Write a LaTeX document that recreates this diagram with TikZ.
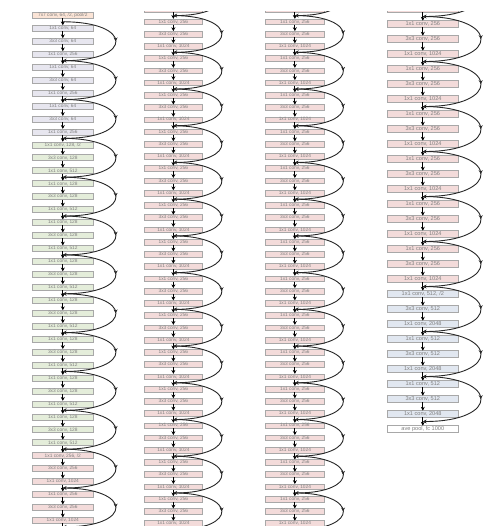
\documentclass[tikz,border=0pt]{standalone}
\usepackage{fontspec}
\setsansfont{Liberation Sans}
\usetikzlibrary{arrows.meta, positioning, calc, decorations.markings}

\definecolor{peach}{HTML}{FBE4D6}
\definecolor{lavender}{HTML}{E7E6EF}
\definecolor{sage}{HTML}{E4EDDA}
\definecolor{blush}{HTML}{F3DBDA}
\definecolor{ice}{HTML}{E1E7F0}
\definecolor{boxline}{HTML}{A8A8A8}
\definecolor{labelgray}{HTML}{808080}

\tikzset{
    layer/.style={rectangle, draw=boxline, line width=0.5pt, inner sep=0pt, outer sep=0pt, text=labelgray},
    col1/.style={layer, minimum width=61pt, minimum height=6pt, font=\sffamily\fontsize{4.8}{5}\selectfont},
    col2/.style={layer, minimum width=58.5pt, minimum height=5.7pt, font=\sffamily\fontsize{4.8}{5}\selectfont},
    col4/.style={layer, minimum width=71pt, minimum height=6.8pt, font=\sffamily\fontsize{5.6}{6}\selectfont},
    flow/.style={-{Stealth[length=3.8pt,width=4pt]}, line width=0.8pt},
    skip/.style={line width=0.9pt, black!85, out=0, in=0,
        -{Stealth[length=3.8pt,width=4pt]},
        decoration={markings, mark=at position 0.5 with {\arrow{Stealth[length=3.8pt,width=4pt]}}},
        postaction={decorate}}
}

\begin{document}
\begin{tikzpicture}[x=1pt, y=1pt]
    \useasboundingbox (0,0) rectangle (487,-526);
    \clip (0,0) rectangle (487,-526);

    % Column 1: conv1, conv2_x, conv3_x, first blocks of conv4_x
    \node[col1, fill=peach] (r1-0) at (62.8,-15.3) {7x7 conv, 64, /2, pool/2};
    \coordinate (j1-0) at ([yshift=-3.475pt]r1-0.south);
    \foreach \i [remember=\i as \p (initially 0)] in {1,...,39} {
        \pgfmathtruncatemacro\lyr{mod(\i-1,3)}
        \ifnum\i<10 \def\chn{64}\def\tnt{lavender}\else
            \ifnum\i<34 \def\chn{128}\def\tnt{sage}\else
                \def\chn{256}\def\tnt{blush}\fi\fi
        \pgfmathtruncatemacro\chw{4*\chn}
        \def\sfx{}
        \ifnum\i=10 \def\sfx{, /2}\fi
        \ifnum\i=34 \def\sfx{, /2}\fi
        \node[col1, fill=\tnt, below=6.95pt of r1-\p] (r1-\i)
            {\ifcase\lyr\relax 1x1 conv, \chn\sfx\or 3x3 conv, \chn\or 1x1 conv, \chw\fi};
        \draw[flow] (r1-\p) -- (r1-\i);
        \ifnum\lyr=2 \coordinate (j1-\i) at ([yshift=-3.475pt]r1-\i.south);\fi
    }
    \coordinate (r1-out) at ([yshift=-12pt]r1-39.south);
    \draw[flow] (r1-39) -- (r1-out);
    \foreach \b in {3,6,...,39} {
        \pgfmathtruncatemacro\a{\b-3}
        \draw[skip, looseness=4.65] (j1-\a) to (j1-\b);
    }

    % Column 2: conv4_x continued
    \begin{scope}
        \clip (125,-12) rectangle (255,-526);
        \node[col2, fill=blush] (r2-0) at (173.35,-21.7) {1x1 conv, 256};
        \node[col2, fill=blush, above=6.54pt of r2-0] (r2-top) {1x1 conv, 1024};
        \coordinate (j2-top) at ([yshift=-3.27pt]r2-top.south);
        \coordinate (j2-prev) at ([yshift=36.72pt]j2-top);
        \draw[flow] (r2-top) -- (r2-0);
        \draw[skip, looseness=4.49] (j2-prev) to (j2-top);
        \foreach \i [remember=\i as \p (initially 0)] in {1,...,41} {
            \pgfmathtruncatemacro\lyr{mod(\i,3)}
            \node[col2, fill=blush, below=6.54pt of r2-\p] (r2-\i)
                {\ifcase\lyr\relax 1x1 conv, 256\or 3x3 conv, 256\or 1x1 conv, 1024\fi};
            \draw[flow] (r2-\p) -- (r2-\i);
            \ifnum\lyr=2 \coordinate (j2-\i) at ([yshift=-3.27pt]r2-\i.south);\fi
        }
        \coordinate (r2-out) at ([yshift=-12pt]r2-41.south);
        \draw[flow] (r2-41) -- (r2-out);
        \draw[skip, looseness=4.49] (j2-top) to (j2-2);
        \foreach \b in {5,8,...,41} {
            \pgfmathtruncatemacro\a{\b-3}
            \draw[skip, looseness=4.49] (j2-\a) to (j2-\b);
        }
    \end{scope}

    % Column 3: conv4_x continued
    \begin{scope}
        \clip (255,-12) rectangle (380,-526);
        \node[col2, fill=blush] (r3-0) at (294.85,-21.7) {1x1 conv, 256};
        \node[col2, fill=blush, above=6.54pt of r3-0] (r3-top) {1x1 conv, 1024};
        \coordinate (j3-top) at ([yshift=-3.27pt]r3-top.south);
        \coordinate (j3-prev) at ([yshift=36.72pt]j3-top);
        \draw[flow] (r3-top) -- (r3-0);
        \draw[skip, looseness=4.49] (j3-prev) to (j3-top);
        \foreach \i [remember=\i as \p (initially 0)] in {1,...,41} {
            \pgfmathtruncatemacro\lyr{mod(\i,3)}
            \node[col2, fill=blush, below=6.54pt of r3-\p] (r3-\i)
                {\ifcase\lyr\relax 1x1 conv, 256\or 3x3 conv, 256\or 1x1 conv, 1024\fi};
            \draw[flow] (r3-\p) -- (r3-\i);
            \ifnum\lyr=2 \coordinate (j3-\i) at ([yshift=-3.27pt]r3-\i.south);\fi
        }
        \coordinate (r3-out) at ([yshift=-12pt]r3-41.south);
        \draw[flow] (r3-41) -- (r3-out);
        \draw[skip, looseness=4.49] (j3-top) to (j3-2);
        \foreach \b in {5,8,...,41} {
            \pgfmathtruncatemacro\a{\b-3}
            \draw[skip, looseness=4.49] (j3-\a) to (j3-\b);
        }
    \end{scope}

    % Column 4: end of conv4_x, conv5_x, pooling
    \begin{scope}
        \clip (380,-12) rectangle (487,-526);
        \node[col4, fill=blush] (r4-0) at (422.8,-24) {1x1 conv, 256};
        \node[col4, fill=blush, above=8.2pt of r4-0] (r4-top) {1x1 conv, 1024};
        \coordinate (j4-top) at ([yshift=-4.1pt]r4-top.south);
        \coordinate (j4-prev) at ([yshift=45pt]j4-top);
        \draw[flow] (r4-top) -- (r4-0);
        \draw[skip, looseness=4.4] (j4-prev) to (j4-top);
        \foreach \i [remember=\i as \p (initially 0)] in {1,...,27} {
            \pgfmathtruncatemacro\lyr{mod(\i,3)}
            \ifnum\i<18 \def\chn{256}\def\tnt{blush}\else \def\chn{512}\def\tnt{ice}\fi
            \pgfmathtruncatemacro\chw{4*\chn}
            \def\sfx{}
            \ifnum\i=18 \def\sfx{, /2}\fi
            \ifnum\i<27
                \node[col4, fill=\tnt, below=8.2pt of r4-\p] (r4-\i)
                    {\ifcase\lyr\relax 1x1 conv, \chn\sfx\or 3x3 conv, \chn\or 1x1 conv, \chw\fi};
            \else
                \node[col4, fill=white, below=8.2pt of r4-\p] (r4-\i) {ave pool, fc 1000};
            \fi
            \draw[flow] (r4-\p) -- (r4-\i);
            \ifnum\lyr=2 \coordinate (j4-\i) at ([yshift=-4.1pt]r4-\i.south);\fi
        }
        \draw[skip, looseness=4.4] (j4-top) to (j4-2);
        \foreach \b in {5,8,...,26} {
            \pgfmathtruncatemacro\a{\b-3}
            \draw[skip, looseness=4.4] (j4-\a) to (j4-\b);
        }
    \end{scope}
\end{tikzpicture}
\end{document}
